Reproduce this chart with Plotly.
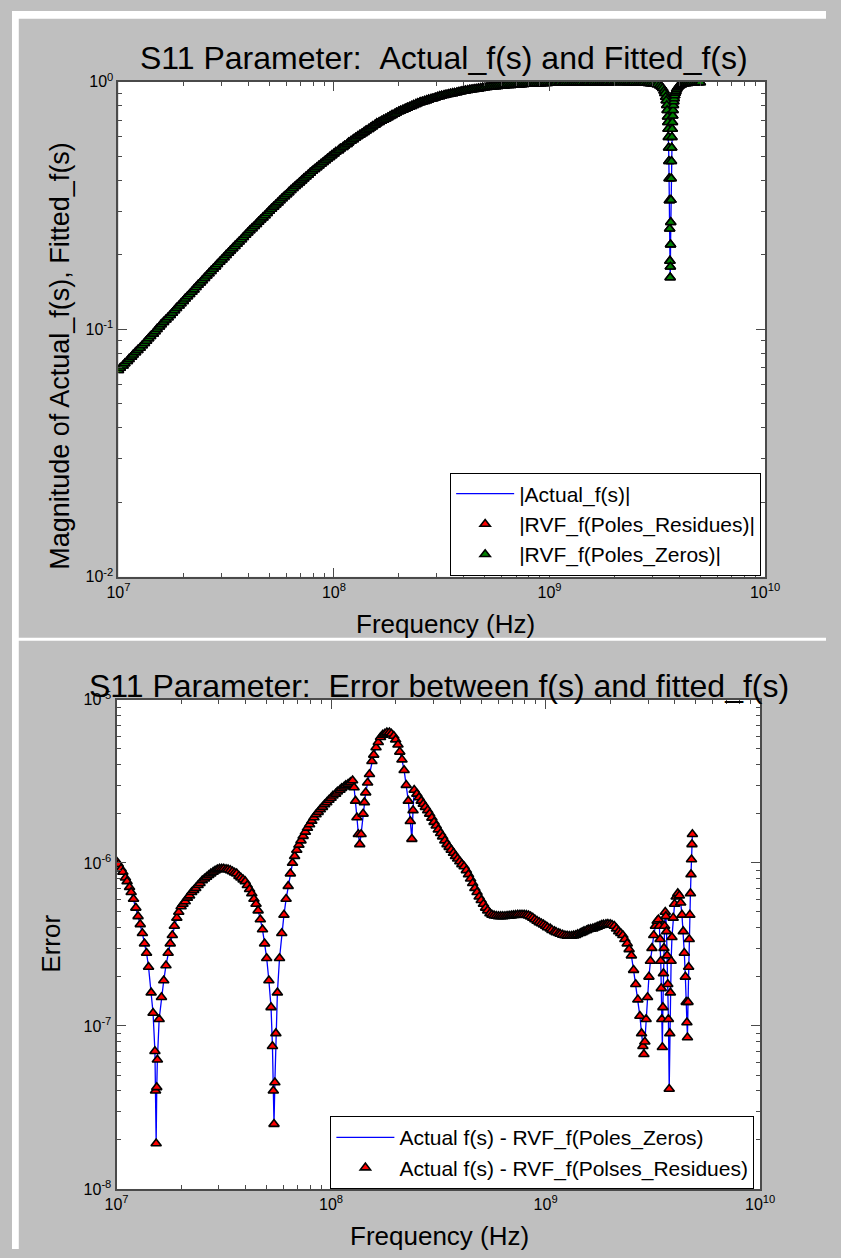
import plotly.graph_objects as go

# ---------------- data (frequencies in MHz) ----------------
TOP_FREQ_MHZ = [
    10.0, 10.2, 10.5, 10.7, 11.0, 11.2, 11.5, 11.7, 12.0, 12.3,
    12.6, 12.9, 13.2, 13.5, 13.8, 14.1, 14.5, 14.8, 15.1, 15.5,
    15.8, 16.2, 16.6, 17.0, 17.4, 17.8, 18.2, 18.6, 19.1, 19.5,
    20.0, 20.4, 20.9, 21.4, 21.9, 22.4, 22.9, 23.4, 24.0, 24.5,
    25.1, 25.7, 26.3, 26.9, 27.5, 28.2, 28.8, 29.5, 30.2, 30.9,
    31.6, 32.4, 33.1, 33.9, 34.7, 35.5, 36.3, 37.2, 38.0, 38.9,
    39.8, 40.7, 41.7, 42.7, 43.7, 44.7, 45.7, 46.8, 47.9, 49.0,
    50.1, 51.3, 52.5, 53.7, 55.0, 56.2, 57.5, 58.9, 60.3, 61.7,
    63.1, 64.6, 66.1, 67.6, 69.2, 70.8, 72.4, 74.1, 75.9, 77.6,
    79.4, 81.3, 83.2, 85.1, 87.1, 89.1, 91.2, 93.3, 95.5, 97.7,
    100, 102, 105, 107, 110, 112, 115, 117, 120, 123,
    126, 129, 132, 135, 138, 141, 145, 148, 151, 155,
    158, 162, 166, 170, 174, 178, 182, 186, 191, 195,
    200, 204, 209, 214, 219, 224, 229, 234, 240, 245,
    251, 257, 263, 269, 275, 282, 288, 295, 302, 309,
    316, 324, 331, 339, 347, 355, 363, 372, 380, 389,
    398, 407, 417, 427, 437, 447, 457, 468, 479, 490,
    501, 513, 525, 537, 550, 562, 575, 589, 603, 617,
    631, 646, 661, 676, 692, 708, 724, 741, 759, 776,
    794, 813, 832, 851, 871, 891, 912, 933, 955, 977,
    1000, 1020, 1050, 1070, 1100, 1120, 1150, 1170, 1200, 1230,
    1260, 1290, 1320, 1350, 1380, 1410, 1450, 1480, 1510, 1550,
    1580, 1620, 1660, 1700, 1740, 1780, 1820, 1860, 1910, 1950,
    2000, 2040, 2090, 2140, 2190, 2240, 2290, 2340, 2400, 2450,
    2510, 2570, 2630, 2690, 2750, 2820, 2880, 2950, 3020, 3090,
    3160, 3240, 3300, 3350, 3400, 3430, 3460, 3480, 3500, 3515,
    3530, 3540, 3550, 3560, 3570, 3580, 3590, 3600, 3610, 3620,
    3630, 3638, 3645, 3652, 3660, 3670, 3680, 3690, 3700, 3710,
    3720, 3732, 3745, 3760, 3775, 3790, 3810, 3835, 3860, 3890,
    3930, 3980, 4030, 4100, 4170, 4270, 4370, 4470, 4570, 4680,
    4790, 4900, 5010,
]
TOP_MAG_ACTUAL = [
    0.0684, 0.0698, 0.0713, 0.0728, 0.0743, 0.0758, 0.0774, 0.0790, 0.0807, 0.0824,
    0.0841, 0.0860, 0.0879, 0.0898, 0.0918, 0.0938, 0.0959, 0.0980, 0.1002, 0.1024,
    0.1047, 0.1070, 0.1094, 0.1117, 0.1140, 0.1165, 0.1191, 0.1218, 0.1245, 0.1272,
    0.1300, 0.1329, 0.1358, 0.1387, 0.1416, 0.1447, 0.1479, 0.1510, 0.1542, 0.1576,
    0.1611, 0.1647, 0.1683, 0.1718, 0.1754, 0.1793, 0.1832, 0.1871, 0.1910, 0.1952,
    0.1995, 0.2037, 0.2080, 0.2124, 0.2168, 0.2213, 0.2259, 0.2307, 0.2355, 0.2405,
    0.2455, 0.2507, 0.2559, 0.2610, 0.2661, 0.2717, 0.2773, 0.2828, 0.2884, 0.2945,
    0.3006, 0.3066, 0.3126, 0.3188, 0.3251, 0.3316, 0.3381, 0.3444, 0.3508, 0.3578,
    0.3648, 0.3716, 0.3784, 0.3850, 0.3917, 0.3990, 0.4064, 0.4135, 0.4207, 0.4286,
    0.4365, 0.4436, 0.4508, 0.4582, 0.4656, 0.4732, 0.4809, 0.4887, 0.4966, 0.5047,
    0.5129, 0.5206, 0.5284, 0.5364, 0.5445, 0.5521, 0.5598, 0.5683, 0.5768, 0.5855,
    0.5943, 0.6026, 0.6109, 0.6187, 0.6266, 0.6354, 0.6442, 0.6524, 0.6607, 0.6699,
    0.6792, 0.6871, 0.6950, 0.7023, 0.7096, 0.7178, 0.7261, 0.7337, 0.7413, 0.7500,
    0.7586, 0.7647, 0.7709, 0.7780, 0.7852, 0.7916, 0.7980, 0.8054, 0.8128, 0.8194,
    0.8260, 0.8308, 0.8356, 0.8414, 0.8472, 0.8521, 0.8570, 0.8630, 0.8690, 0.8740,
    0.8790, 0.8831, 0.8872, 0.8913, 0.8954, 0.8985, 0.9016, 0.9058, 0.9099, 0.9141,
    0.9183, 0.9215, 0.9247, 0.9279, 0.9311, 0.9333, 0.9354, 0.9387, 0.9419, 0.9452,
    0.9484, 0.9506, 0.9528, 0.9550, 0.9572, 0.9583, 0.9594, 0.9616, 0.9638, 0.9660,
    0.9683, 0.9694, 0.9705, 0.9716, 0.9727, 0.9739, 0.9750, 0.9772, 0.9795, 0.9806,
    0.9817, 0.9828, 0.9840, 0.9840, 0.9840, 0.9851, 0.9863, 0.9874, 0.9886, 0.9886,
    0.989, 0.989, 0.990, 0.990, 0.991, 0.991, 0.991, 0.991, 0.992, 0.992,
    0.992, 0.992, 0.993, 0.993, 0.993, 0.993, 0.994, 0.994, 0.994, 0.994,
    0.994, 0.995, 0.995, 0.995, 0.995, 0.995, 0.995, 0.995, 0.995, 0.996,
    0.996, 0.996, 0.996, 0.996, 0.996, 0.996, 0.995, 0.995, 0.994, 0.994,
    0.993, 0.992, 0.992, 0.991, 0.990, 0.989, 0.988, 0.986, 0.984, 0.981,
    0.976, 0.968, 0.957, 0.942, 0.920, 0.899, 0.869, 0.841, 0.804, 0.768,
    0.723, 0.687, 0.645, 0.598, 0.542, 0.478, 0.407, 0.332, 0.255, 0.189,
    0.162, 0.179, 0.220, 0.271, 0.333, 0.407, 0.478, 0.542, 0.598, 0.645,
    0.687, 0.730, 0.768, 0.804, 0.833, 0.856, 0.881, 0.903, 0.917, 0.935,
    0.950, 0.961, 0.969, 0.976, 0.981, 0.985, 0.988, 0.990, 0.992, 0.993,
    0.994, 0.994, 0.995,
]
# the two fitted magnitudes coincide with the measured one at this scale
TOP_MAG_RVF_PR = list(TOP_MAG_ACTUAL)
TOP_MAG_RVF_PZ = list(TOP_MAG_ACTUAL)

BOT_FREQ_MHZ = [
    10.0, 10.2, 10.5, 10.7, 11.0, 11.2, 11.5, 11.7, 12.0, 12.3,
    12.6, 12.9, 13.2, 13.5, 13.8, 14.1, 14.5, 14.8, 15.1, 15.2,
    15.3, 15.4, 15.5, 15.8, 16.2, 16.6, 17.0, 17.4, 17.8, 18.2,
    18.6, 19.1, 19.5, 20.0, 20.4, 20.9, 21.4, 21.9, 22.4, 22.9,
    23.4, 24.0, 24.5, 25.1, 25.7, 26.3, 26.9, 27.5, 28.2, 28.8,
    29.5, 30.2, 30.9, 31.6, 32.4, 33.1, 33.9, 34.7, 35.5, 36.3,
    37.2, 38.0, 38.9, 39.8, 40.7, 41.7, 42.7, 43.7, 44.7, 45.7,
    46.8, 47.9, 49.0, 50.1, 51.3, 52.5, 53.3, 53.8, 54.2, 54.7,
    55.3, 56.2, 57.5, 58.9, 60.3, 61.7, 63.1, 64.6, 66.1, 67.6,
    69.2, 70.8, 72.4, 74.1, 75.9, 77.6, 79.4, 81.3, 83.2, 85.1,
    87.1, 89.1, 91.2, 93.3, 95.5, 97.7, 100, 102, 105, 107,
    110, 112, 115, 117, 120, 123, 126, 128, 130, 132,
    134, 136, 138, 141, 143, 145, 148, 151, 155, 158,
    162, 166, 170, 174, 178, 182, 187, 191, 196, 200,
    205, 209, 214, 219, 224, 229, 234, 238, 241, 244,
    251, 257, 263, 269, 275, 282, 288, 295, 302, 309,
    316, 324, 331, 339, 347, 355, 363, 372, 380, 389,
    398, 407, 417, 427, 437, 447, 457, 468, 479, 490,
    501, 513, 525, 537, 550, 562, 575, 589, 603, 617,
    631, 646, 661, 676, 692, 708, 724, 741, 759, 776,
    794, 813, 832, 851, 871, 891, 912, 933, 955, 977,
    1000, 1020, 1050, 1070, 1100, 1120, 1150, 1170, 1200, 1230,
    1260, 1290, 1320, 1350, 1380, 1410, 1450, 1480, 1510, 1550,
    1580, 1620, 1660, 1700, 1740, 1780, 1820, 1860, 1910, 1950,
    2000, 2040, 2090, 2140, 2190, 2240, 2290, 2340, 2400, 2450,
    2510, 2570, 2630, 2690, 2750, 2800, 2840, 2871, 2900, 2940,
    2985, 3030, 3080, 3130, 3190, 3250, 3310, 3355, 3390, 3415,
    3440, 3460, 3480, 3500, 3520, 3540, 3560, 3585, 3610, 3635,
    3660, 3685, 3710, 3735, 3767, 3790, 3815, 3845, 3880, 3930,
    3990, 4060, 4130, 4200, 4260, 4320, 4380, 4430, 4480, 4520,
    4555, 4581, 4610, 4640, 4670, 4700, 4730, 4760, 4785, 4810,
    4831,
]
BOT_ERR_PZ = [
    1.02e-6, 9.8e-7, 9.2e-7, 8.8e-7, 8.1e-7, 7.7e-7, 7.1e-7, 6.6e-7, 6.0e-7, 5.3e-7,
    4.7e-7, 4.2e-7, 3.7e-7, 3.2e-7, 2.8e-7, 2.3e-7, 1.6e-7, 1.2e-7, 7.0e-8, 4.0e-8,
    1.9e-8, 4.2e-8, 6.2e-8, 1.1e-7, 1.5e-7, 1.9e-7, 2.35e-7, 2.8e-7, 3.2e-7, 3.6e-7,
    4.1e-7, 4.6e-7, 5.0e-7, 5.4e-7, 5.6e-7, 5.8e-7, 6.1e-7, 6.3e-7, 6.6e-7, 6.8e-7,
    7.0e-7, 7.3e-7, 7.5e-7, 7.8e-7, 8.0e-7, 8.2e-7, 8.4e-7, 8.6e-7, 8.8e-7, 8.95e-7,
    9.1e-7, 9.2e-7, 9.2e-7, 9.2e-7, 9.15e-7, 9.1e-7, 9.0e-7, 8.85e-7, 8.7e-7, 8.6e-7,
    8.3e-7, 8.1e-7, 7.9e-7, 7.7e-7, 7.3e-7, 6.9e-7, 6.5e-7, 6.0e-7, 5.6e-7, 5.1e-7,
    4.5e-7, 3.9e-7, 3.2e-7, 2.6e-7, 1.9e-7, 1.3e-7, 7.5e-8, 4.0e-8, 2.5e-8, 4.5e-8,
    9.0e-8, 1.6e-7, 2.6e-7, 3.7e-7, 4.8e-7, 6.0e-7, 7.2e-7, 8.6e-7, 1.0e-6, 1.1e-6,
    1.2e-6, 1.29e-6, 1.37e-6, 1.46e-6, 1.55e-6, 1.64e-6, 1.72e-6, 1.81e-6, 1.9e-6, 1.98e-6,
    2.05e-6, 2.13e-6, 2.2e-6, 2.28e-6, 2.35e-6, 2.43e-6, 2.5e-6, 2.58e-6, 2.65e-6, 2.73e-6,
    2.8e-6, 2.87e-6, 2.93e-6, 2.99e-6, 3.05e-6, 3.12e-6, 3.2e-6, 2.9e-6, 2.4e-6, 1.9e-6,
    1.5e-6, 1.3e-6, 1.5e-6, 2.0e-6, 2.35e-6, 2.7e-6, 3.1e-6, 3.5e-6, 4.2e-6, 4.6e-6,
    5.1e-6, 5.5e-6, 5.9e-6, 6.1e-6, 6.2e-6, 6.3e-6, 6.3e-6, 6.2e-6, 6.0e-6, 5.7e-6,
    5.3e-6, 4.8e-6, 4.3e-6, 3.7e-6, 3.0e-6, 2.4e-6, 1.8e-6, 1.4e-6, 2.1e-6, 2.8e-6,
    2.65e-6, 2.52e-6, 2.4e-6, 2.3e-6, 2.2e-6, 2.1e-6, 2.0e-6, 1.89e-6, 1.78e-6, 1.69e-6,
    1.6e-6, 1.52e-6, 1.45e-6, 1.37e-6, 1.3e-6, 1.25e-6, 1.2e-6, 1.15e-6, 1.1e-6, 1.06e-6,
    1.02e-6, 9.8e-7, 9.5e-7, 9.0e-7, 8.5e-7, 8.0e-7, 7.5e-7, 7.0e-7, 6.6e-7, 6.2e-7,
    5.9e-7, 5.6e-7, 5.3e-7, 5.1e-7, 4.9e-7, 4.8e-7, 4.75e-7, 4.72e-7, 4.7e-7, 4.7e-7,
    4.7e-7, 4.71e-7, 4.72e-7, 4.73e-7, 4.75e-7, 4.77e-7, 4.78e-7, 4.8e-7, 4.8e-7, 4.8e-7,
    4.8e-7, 4.78e-7, 4.75e-7, 4.68e-7, 4.6e-7, 4.5e-7, 4.4e-7, 4.32e-7, 4.25e-7, 4.18e-7,
    4.1e-7, 4.02e-7, 3.95e-7, 3.87e-7, 3.8e-7, 3.75e-7, 3.7e-7, 3.66e-7, 3.62e-7, 3.59e-7,
    3.57e-7, 3.56e-7, 3.56e-7, 3.58e-7, 3.6e-7, 3.65e-7, 3.7e-7, 3.75e-7, 3.8e-7, 3.85e-7,
    3.9e-7, 3.93e-7, 3.95e-7, 4.0e-7, 4.05e-7, 4.1e-7, 4.15e-7, 4.18e-7, 4.2e-7, 4.21e-7,
    4.2e-7, 4.16e-7, 4.1e-7, 3.95e-7, 3.8e-7, 3.7e-7, 3.6e-7, 3.4e-7, 3.2e-7, 2.95e-7,
    2.7e-7, 2.2e-7, 1.8e-7, 1.45e-7, 1.15e-7, 9.0e-8, 7.5e-8, 6.7e-8, 8.0e-8, 1.1e-7,
    1.5e-7, 2.0e-7, 2.5e-7, 3.0e-7, 3.6e-7, 4.1e-7, 4.4e-7, 4.5e-7, 4.1e-7, 3.4e-7,
    2.5e-7, 1.7e-7, 1.1e-7, 7.4e-8, 1.3e-7, 2.1e-7, 3.0e-7, 4.1e-7, 5.0e-7, 4.7e-7,
    3.8e-7, 2.7e-7, 1.8e-7, 1.1e-7, 4.1e-8, 9.0e-8, 1.6e-7, 2.5e-7, 3.5e-7, 4.6e-7,
    5.6e-7, 6.2e-7, 6.5e-7, 6.3e-7, 5.7e-7, 4.8e-7, 3.8e-7, 2.8e-7, 2.0e-7, 1.4e-7,
    1.05e-7, 8.5e-8, 1.4e-7, 2.3e-7, 3.4e-7, 4.8e-7, 6.5e-7, 8.5e-7, 1.05e-6, 1.3e-6,
    1.5e-6,
]
BOT_ERR_PR = list(BOT_ERR_PZ)

X_TICKS = [1e7, 1e8, 1e9, 1e10]
X_TICKTEXT = ["10<sup>7</sup>", "10<sup>8</sup>", "10<sup>9</sup>", "10<sup>10</sup>"]
Y1_TICKS = [1e-2, 1e-1, 1e0]
Y1_TICKTEXT = ["10<sup>-2</sup>", "10<sup>-1</sup>", "10<sup>0</sup>"]
Y2_TICKS = [1e-8, 1e-7, 1e-6, 1e-5]
Y2_TICKTEXT = ["10<sup>-8</sup>", "10<sup>-7</sup>", "10<sup>-6</sup>", "10<sup>-5</sup>"]

assert len(TOP_FREQ_MHZ) == len(TOP_MAG_ACTUAL), (len(TOP_FREQ_MHZ), len(TOP_MAG_ACTUAL))
assert len(BOT_FREQ_MHZ) == len(BOT_ERR_PZ), (len(BOT_FREQ_MHZ), len(BOT_ERR_PZ))

top_f = [v * 1e6 for v in TOP_FREQ_MHZ]
bot_f = [v * 1e6 for v in BOT_FREQ_MHZ]

# ---------------- styling ----------------
W, H = 841, 1258
FONT = "Liberation Sans, Arial, Helvetica, sans-serif"
GRAY_BG = "#bfbfbf"
FRAME = "#4a4a4a"


def px_x(x):
    return x / W


def px_y(y):
    return 1 - y / H


def minor_vals(lo, hi):
    out = []
    for k in range(lo, hi):
        for m in range(2, 10):
            out.append(m * 10 ** k)
    return out


MARK_EDGE = dict(color="black", width=1.6)
MSIZE = 9

fig = go.Figure()
fig.add_trace(go.Scatter(x=top_f, y=TOP_MAG_ACTUAL, mode="lines", name="|Actual_f(s)|",
                         line=dict(color="#0000ff", width=1.3), xaxis="x", yaxis="y",
                         legend="legend"))
fig.add_trace(go.Scatter(x=top_f, y=TOP_MAG_RVF_PR, mode="markers",
                         name="|RVF_f(Poles_Residues)|",
                         marker=dict(symbol="triangle-up", size=MSIZE, color="#ff0000", line=MARK_EDGE),
                         xaxis="x", yaxis="y", legend="legend"))
fig.add_trace(go.Scatter(x=top_f, y=TOP_MAG_RVF_PZ, mode="markers",
                         name="|RVF_f(Poles_Zeros)|",
                         marker=dict(symbol="triangle-up", size=MSIZE, color="#008000", line=MARK_EDGE),
                         xaxis="x", yaxis="y", legend="legend"))
fig.add_trace(go.Scatter(x=bot_f, y=BOT_ERR_PZ, mode="lines",
                         name="Actual f(s) - RVF_f(Poles_Zeros)",
                         line=dict(color="#0000ff", width=1.3), xaxis="x2", yaxis="y2",
                         legend="legend2"))
fig.add_trace(go.Scatter(x=bot_f, y=BOT_ERR_PR, mode="markers",
                         name="Actual f(s) - RVF_f(Polses_Residues)",
                         marker=dict(symbol="triangle-up", size=MSIZE, color="#ff0000", line=MARK_EDGE),
                         xaxis="x2", yaxis="y2", legend="legend2"))

axis_common = dict(
    type="log", showline=True, linecolor=FRAME, linewidth=2, mirror="allticks",
    ticks="inside", ticklen=9, tickwidth=1, tickcolor=FRAME,
    showgrid=False, zeroline=False,
    tickfont=dict(family=FONT, size=16, color="black"),
)


def minor_cfg(lo, hi):
    return dict(ticks="inside", ticklen=4, tickcolor=FRAME, tickvals=minor_vals(lo, hi), showgrid=False)


fig.update_layout(
    width=W, height=H,
    margin=dict(l=0, r=0, t=0, b=0),
    paper_bgcolor=GRAY_BG, plot_bgcolor="white",
    font=dict(family=FONT, color="black"),
    xaxis=dict(axis_common, domain=[px_x(110), px_x(778)], anchor="y", range=[7, 10],
               tickvals=X_TICKS, ticktext=X_TICKTEXT, minor=minor_cfg(7, 10)),
    yaxis=dict(axis_common, domain=[px_y(575), px_y(72)], anchor="x", range=[-2, 0],
               tickvals=Y1_TICKS, ticktext=Y1_TICKTEXT, minor=minor_cfg(-2, 0)),
    xaxis2=dict(axis_common, domain=[px_x(108), px_x(773)], anchor="y2", range=[7, 10],
                tickvals=X_TICKS, ticktext=X_TICKTEXT, minor=minor_cfg(7, 10)),
    yaxis2=dict(axis_common, domain=[px_y(1197), px_y(700)], anchor="x2", range=[-8, -5],
                tickvals=Y2_TICKS, ticktext=Y2_TICKTEXT, minor=minor_cfg(-8, -5)),
    legend=dict(x=px_x(774), xanchor="right", y=px_y(469), yanchor="top",
                bgcolor="white", bordercolor="black", borderwidth=1,
                font=dict(family=FONT, size=21, color="black"),
                itemwidth=58, tracegroupgap=0),
    legend2=dict(x=px_x(767), xanchor="right", y=px_y(1123), yanchor="top",
                 bgcolor="white", bordercolor="black", borderwidth=1,
                 font=dict(family=FONT, size=21, color="black"),
                 itemwidth=58, tracegroupgap=0),
    showlegend=True,
)

# white page border (top, left) and white separator strip between the panels
shapes = [
    dict(type="rect", xref="paper", yref="paper", x0=0, x1=1, y0=px_y(8), y1=1,
         fillcolor="white", line=dict(width=0), layer="below"),
    dict(type="rect", xref="paper", yref="paper", x0=0, x1=px_x(7), y0=0, y1=1,
         fillcolor="white", line=dict(width=0), layer="below"),
    dict(type="rect", xref="paper", yref="paper", x0=0, x1=1, y0=px_y(640), y1=px_y(637),
         fillcolor="white", line=dict(width=0), layer="below"),
]
fig.update_layout(shapes=shapes)

NB = "\u00a0"
annotations = [
    dict(text="S11 Parameter: " + NB + "Actual_f(s) and Fitted_f(s)", x=px_x(446), y=px_y(48),
         font=dict(size=32)),
    dict(text="Frequency (Hz)", x=px_x(448), y=px_y(623), font=dict(size=26)),
    dict(text="Magnitude of Actual_f(s), Fitted_f(s)", x=px_x(50), y=px_y(350),
         textangle=-90, font=dict(size=27)),
    dict(text="S11 Parameter: " + NB + "Error between f(s) and fitted_f(s)", x=px_x(441), y=px_y(686),
         font=dict(size=32)),
    dict(text="Frequency (Hz)", x=px_x(442), y=px_y(1245), font=dict(size=26)),
    dict(text="Error", x=px_x(40), y=px_y(948), textangle=-90, font=dict(size=26)),
]
for a in annotations:
    a.update(xref="paper", yref="paper", xanchor="center", yanchor="middle", showarrow=False)
    a["font"].update(family=FONT, color="black")
fig.update_layout(annotations=annotations)

fig.write_html("out.html")
